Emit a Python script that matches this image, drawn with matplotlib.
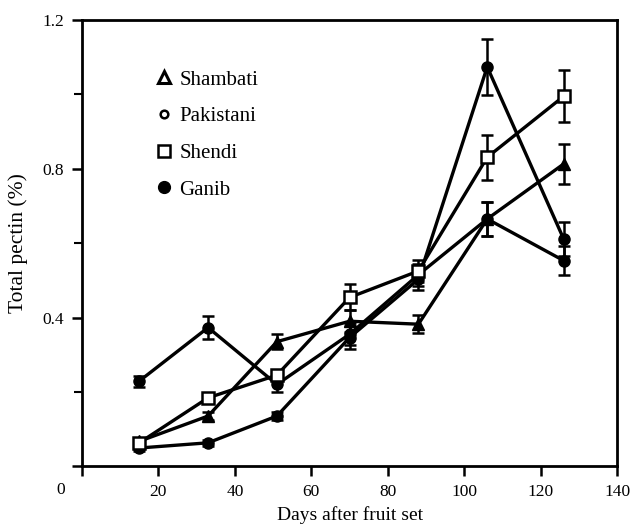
import matplotlib
matplotlib.use("Agg")
import matplotlib.pyplot as plt
from matplotlib.lines import Line2D

plt.rcParams['font.family'] = ['Liberation Serif', 'DejaVu Serif']

days = [15, 33, 51, 70, 88, 106, 126]

shambati = [0.067, 0.135, 0.335, 0.39, 0.382, 0.665, 0.813]
shambati_err = [0.01, 0.012, 0.02, 0.03, 0.025, 0.045, 0.055]

pakistani = [0.229, 0.373, 0.22, 0.355, 0.515, 0.665, 0.553]
pakistani_err = [0.015, 0.03, 0.02, 0.03, 0.03, 0.045, 0.04]

shendi = [0.063, 0.184, 0.245, 0.454, 0.525, 0.831, 0.995]
shendi_err = [0.008, 0.01, 0.015, 0.035, 0.03, 0.06, 0.07]

ganib = [0.049, 0.063, 0.135, 0.346, 0.503, 1.074, 0.611]
ganib_err = [0.008, 0.008, 0.01, 0.03, 0.03, 0.075, 0.045]

labels = ["Shambati", "Pakistani", "Shendi", "Ganib"]

fig = plt.figure(figsize=(6.35, 5.28), dpi=100)
ax = fig.add_axes([0.129, 0.117, 0.843, 0.845])

common = dict(color='black', lw=2.4, elinewidth=1.8, capsize=4, capthick=1.8,
              markersize=8)
ax.errorbar(days, shambati, yerr=shambati_err, marker='^', mfc='black', mec='black', **common)
ax.errorbar(days, pakistani, yerr=pakistani_err, marker='o', mfc='black', mec='black', **common)
ax.errorbar(days, ganib, yerr=ganib_err, marker='o', mfc='black', mec='black', **common)
ax.errorbar(days, shendi, yerr=shendi_err, marker='s', mfc='white', mec='black', mew=1.8, **common)

ax.set_xlim(0, 140)
ax.set_ylim(0, 1.2)
ax.set_xticks([0, 20, 40, 60, 80, 100, 120, 140])
ax.set_xticklabels(['', '20', '40', '60', '80', '100', '120', '140'])
ax.set_yticks([0, 0.4, 0.8, 1.2])
ax.set_yticklabels(['', '0.4', '0.8', '1.2'])
ax.set_yticks([0.2, 0.6, 1.0], minor=True)
ax.tick_params(axis='both', which='major', direction='out', length=7, width=1.8,
               labelsize=12.5, pad=6)
ax.tick_params(axis='y', which='minor', direction='out', length=6, width=1.5)
for s in ax.spines.values():
    s.set_linewidth(2)

ax.text(-0.04, -0.035, '0', transform=ax.transAxes, ha='center', va='top', fontsize=12.5)
ax.set_xlabel('Days after fruit set', fontsize=14, labelpad=4)
ax.set_ylabel('Total pectin (%)', fontsize=15.5, labelpad=10)

handles = [
    Line2D([], [], marker='^', ls='none', mfc='white', mec='black', mew=2.2, markersize=8),
    Line2D([], [], marker='o', ls='none', mfc='white', mec='black', mew=1.8, markersize=5.5),
    Line2D([], [], marker='s', ls='none', mfc='white', mec='black', mew=1.8, markersize=8),
    Line2D([], [], marker='o', ls='none', mfc='black', mec='black', markersize=8.5),
]
ax.legend(handles, labels, loc='upper left', bbox_to_anchor=(0.102, 0.93),
          frameon=False, fontsize=15, handlelength=0.8, handletextpad=0.35,
          labelspacing=0.82)

fig.savefig('out.png', dpi=100)
